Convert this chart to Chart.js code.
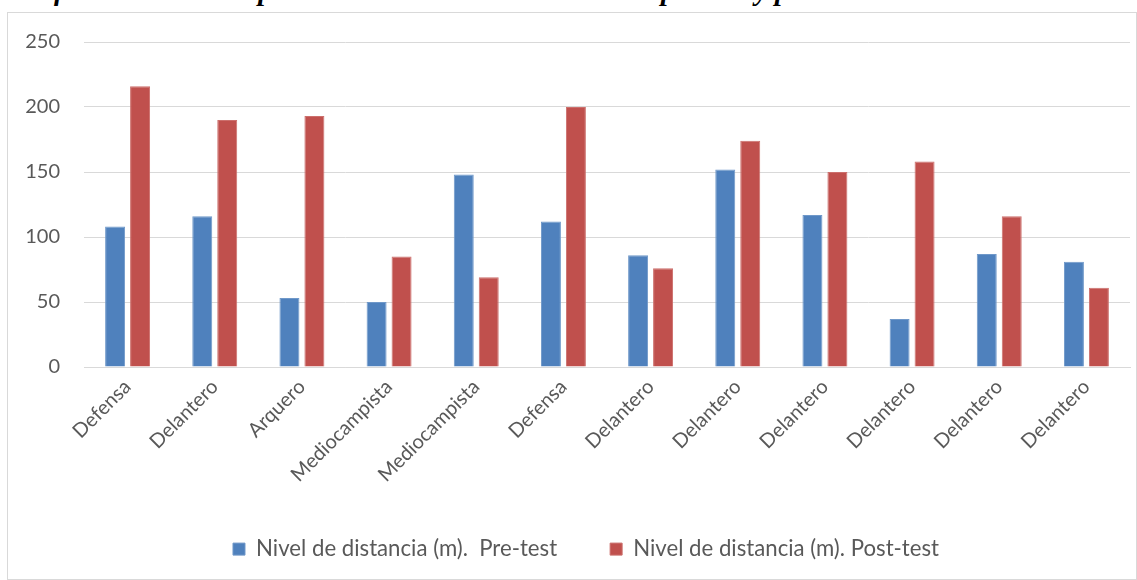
<!DOCTYPE html>
<html>
<head>
<meta charset="utf-8">
<script src="https://cdn.jsdelivr.net/npm/chart.js@4"></script>
<style>
  body { margin: 0; background: #fff; width: 1137px; height: 580px; overflow: hidden; position: relative; }
  #title {
    position: absolute; left: 8px; top: -23px; white-space: nowrap;
    font: italic bold 28.5px "Liberation Serif", serif; line-height: 28px; color: #000;
  }
  #box {
    position: absolute; left: 7px; top: 12px; width: 1128px; height: 566px;
    border: 1px solid #d9d9d9; background: #fff;
  }
</style>
</head>
<body>
<div id="title">Gráfico estadístico representativo del nivel de distancia pre-test y post-test</div>
<div id="box"><canvas id="distanceChart" width="1128" height="566"></canvas></div>
<script>
const positions = ['Defensa', 'Delantero', 'Arquero', 'Mediocampista', 'Mediocampista', 'Defensa',
    'Delantero', 'Delantero', 'Delantero', 'Delantero', 'Delantero', 'Delantero'];
const preTest = [108, 116, 53, 50, 148, 112, 86, 152, 117, 37, 87, 81];
const postTest = [216, 190, 193, 85, 69, 200, 76, 174, 150, 158, 116, 61];
const yTicks = [0, 50, 100, 150, 200, 250];

const axisFont = { family: 'Lato, "Open Sans", sans-serif', size: 20 };
const legendFont = { family: 'Lato, "Open Sans", sans-serif', size: 22.2 };

// the legend uses its padding for the gap between items too, so keep its box short
const legendHeight = {
    id: 'legendHeight',
    afterInit(chart) {
        const legend = chart.legend;
        const fit = legend.fit.bind(legend);
        legend.fit = function () {
            fit();
            this.height = 94;
            this.lineWidths[0] -= 34; // nudge the row a bit to the right
        };
    }
};

const ctx = document.getElementById('distanceChart');
new Chart(ctx, {
    type: 'bar',
    data: {
        labels: positions,
        datasets: [{
            label: 'Nivel de distancia (m).  Pre-test',
            data: preTest,
            backgroundColor: '#4F81BD',
            borderColor: '#6f98c9',
            borderWidth: 1,
            categoryPercentage: 0.573,
            barPercentage: 0.8
        }, {
            label: 'Nivel de distancia (m). Post-test',
            data: postTest,
            backgroundColor: '#C0504D',
            borderColor: '#cc6f6c',
            borderWidth: 1,
            categoryPercentage: 0.573,
            barPercentage: 0.8
        }]
    },
    plugins: [legendHeight],
    options: {
        responsive: false,
        animation: false,
        layout: { padding: { top: 29, right: 6, bottom: 0, left: 0 } },
        plugins: {
            tooltip: { enabled: false },
            legend: {
                position: 'bottom',
                labels: {
                    color: '#595959',
                    font: legendFont,
                    boxWidth: 12,
                    boxHeight: 12,
                    padding: 53
                }
            }
        },
        scales: {
            y: {
                min: 0,
                max: 250,
                afterBuildTicks: (scale) => { scale.ticks = yTicks.map(v => ({ value: v })); },
                afterFit: (scale) => {
                    scale.width = 76;
                    scale.paddingTop = 0;
                    scale.paddingBottom = 0;
                },
                border: { display: false },
                grid: { color: '#d9d9d9', drawTicks: false },
                ticks: { color: '#595959', font: axisFont, padding: 24 }
            },
            x: {
                afterFit: (scale) => { scale.height = 118; },
                border: { color: '#d9d9d9' },
                grid: { display: false, drawTicks: false },
                ticks: { color: '#595959', font: axisFont, maxRotation: 45, minRotation: 45, padding: 8, autoSkip: false }
            }
        }
    }
});
</script>
</body>
</html>
